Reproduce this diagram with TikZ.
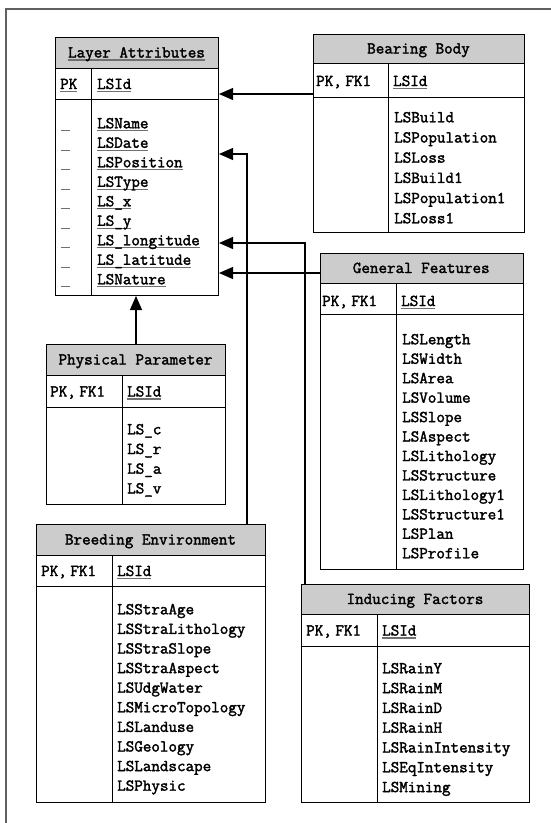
\documentclass[tikz,border=0pt]{standalone}
\usepackage{fontspec}
\setmonofont{Latin Modern Mono}[AutoFakeBold=2]
\usetikzlibrary{arrows.meta}

\definecolor{hdrgray}{HTML}{CCCCCC}
\definecolor{ulgray}{HTML}{707070}
\definecolor{framegray}{HTML}{606060}

% grey underline below a word
\newsavebox{\ulbox}
\newcommand{\uln}[1]{\sbox{\ulbox}{#1}\rlap{\textcolor{ulgray}{\rule[-3pt]{\wd\ulbox}{1.2pt}}}\usebox{\ulbox}}
% key column label with a tight comma
\newcommand{\pkfk}{PK,\kern-5pt\ FK1}

\tikzset{
  tbl/.style={draw=black, line width=1pt, inner sep=0pt, anchor=north west},
  hdr/.style={tbl, fill=hdrgray},
  txt/.style={inner sep=0pt, anchor=base west, font=\ttfamily\bfseries\fontsize{16.6}{19.6}\selectfont},
  ttl/.style={inner sep=0pt, anchor=base, font=\ttfamily\bfseries\fontsize{16.6}{19.6}\selectfont},
  conn/.style={draw=black, line width=1.2pt, -{Triangle[length=14pt,width=12pt]}},
}

% table: name, x0, x1, divider, top, header bottom, row bottom, body bottom
\newcommand{\ertable}[8]{%
  \node[hdr, minimum width={(#3-#2)*1pt}, minimum height={(#6-#5)*1pt}] (#1-h) at (#2,#5) {};
  \node[tbl, minimum width={(#3-#2)*1pt}, minimum height={(#7-#6)*1pt}] (#1-k) at (#2,#6) {};
  \node[tbl, minimum width={(#3-#2)*1pt}, minimum height={(#8-#7)*1pt}] (#1-b) at (#2,#7) {};
  \draw[line width=1pt] (#1-k.north west -| #4,0) -- (#1-b.south west -| #4,0);
}

\begin{document}
\begin{tikzpicture}[x=1pt, y=-1pt]
\useasboundingbox (0,0) rectangle (551,823);

% outer frame
\draw[framegray, line width=1.5pt] (6,823) -- (6,9) -- (551,9);

% Layer Attributes
\ertable{LA}{55}{218}{91}{37}{68}{99}{295}
\node[ttl] (LA-t) at (136.5,57.5) {\uln{Layer Attributes}};
\node[txt] (LA-pk) at (60,89) {\uln{PK}};
\node[txt] (LA-id) at (97,89) {\uln{LSId}};
\foreach \t [count=\i from 0] in {LSName,LSDate,LSPosition,LSType,LS\_x,LS\_y,LS\_longitude,LS\_latitude,LSNature}{
  \node[txt] (LA-f\i) at (97,{128.3+\i*19.5}) {\uln{\t}};
  \node[txt] (LA-m\i) at (61,{128.3+\i*19.5}) {\uln{\phantom{x}}};
}

% Bearing Body
\ertable{BB}{313}{524}{388}{34}{63}{97}{232}
\node[ttl] (BB-t) at (418.5,53.5) {Bearing Body};
\node[txt] (BB-pk) at (316,86) {\pkfk};
\node[txt] (BB-id) at (393,86) {\uln{LSId}};
\foreach \t [count=\i from 0] in {LSBuild,LSPopulation,LSLoss,LSBuild1,LSPopulation1,LSLoss1}{
  \node[txt] (BB-f\i) at (394,{122.3+\i*20.2}) {\t};
}

% General Features
\ertable{GF}{319.5}{523}{396}{253}{283}{314}{569}
\node[ttl] (GF-t) at (421.25,273) {General Features};
\node[txt] (GF-pk) at (322,306) {\pkfk};
\node[txt] (GF-id) at (401,306) {\uln{LSId}};
\foreach \t [count=\i from 0] in {LSLength,LSWidth,LSArea,LSVolume,LSSlope,LSAspect,LSLithology,LSStructure,LSLithology1,LSStructure1,LSPlan,LSProfile}{
  \node[txt] (GF-f\i) at (402,{344.3+\i*19.45}) {\t};
}

% Physical Parameter
\ertable{PP}{46}{225}{122}{344}{375}{407}{504}
\node[ttl] (PP-t) at (135.5,364.5) {Physical Parameter};
\node[txt] (PP-pk) at (50,396.5) {\pkfk};
\node[txt] (PP-id) at (127,396.5) {\uln{LSId}};
\foreach \t [count=\i from 0] in {LS\_c,LS\_r,LS\_a,LS\_v}{
  \node[txt] (PP-f\i) at (127,{434.3+\i*19.7}) {\t};
}

% Breeding Environment
\ertable{BE}{36}{265}{112}{524}{555}{586}{802}
\node[ttl] (BE-t) at (150.5,544.5) {Breeding Environment};
\node[txt] (BE-pk) at (41,576) {\pkfk};
\node[txt] (BE-id) at (117,576) {\uln{LSId}};
\foreach \t [count=\i from 0] in {LSStraAge,LSStraLithology,LSStraSlope,LSStraAspect,LSUdgWater,LSMicroTopology,LSLanduse,LSGeology,LSLandscape,LSPhysic}{
  \node[txt] (BE-f\i) at (117,{614.3+\i*19.6}) {\t};
}

% Inducing Factors
\ertable{IF}{301}{529}{377}{584}{614}{646}{802}
\node[ttl] (IF-t) at (415,604) {Inducing Factors};
\node[txt] (IF-pk) at (306,635.5) {\pkfk};
\node[txt] (IF-id) at (382,635.5) {\uln{LSId}};
\foreach \t [count=\i from 0] in {LSRainY,LSRainM,LSRainD,LSRainH,LSRainIntensity,LSEqIntensity,LSMining}{
  \node[txt] (IF-f\i) at (382,{673.3+\i*19.8}) {\t};
}

% relationships
\draw[conn] (BB-k.west |- 0,94) -- (LA-k.east |- 0,94);
\draw[conn] (BE-h.north -| 247,0) |- (LA-b.east |- 0,154);
\draw[conn] (IF-h.north -| 305,0) |- (LA-b.east |- 0,243);
\draw[conn] (GF-h.west |- 0,273) -- (LA-b.east |- 0,273);
\draw[conn] (PP-h.north -| 136,0) -- (LA-b.south -| 136,0);
\end{tikzpicture}
\end{document}
